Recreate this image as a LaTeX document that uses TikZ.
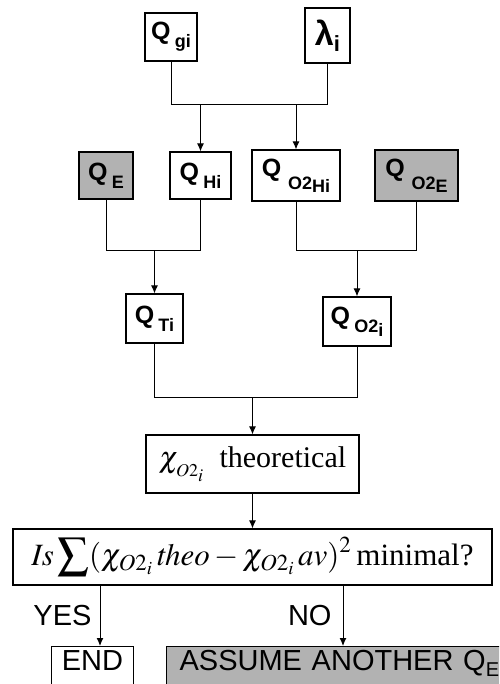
\documentclass[tikz,border=0pt]{standalone}
\usepackage{mathptmx}
\usepackage{fontspec}
\setmainfont{Liberation Serif}
\setsansfont{Liberation Sans}
\usetikzlibrary{arrows.meta}
\definecolor{boxgray}{RGB}{178,178,178}
\newcommand{\lowsub}[2][8pt]{\raisebox{-#1}{\fontsize{18}{18}\selectfont #2}}

\begin{document}
\begin{tikzpicture}[x=1pt,y=-1pt,
  box/.style={draw,line width=1.2pt,inner sep=0pt,font=\sffamily\bfseries\fontsize{25}{25}\selectfont},
  graybox/.style={box,fill=boxgray},
  plain/.style={draw,line width=1.2pt,inner sep=0pt,font=\sffamily\fontsize{29}{29}\selectfont},
  link/.style={line width=1pt},
  arr/.style={link,-{Latex[length=8pt,width=7pt]}}]
  \clip (0,0) rectangle (499,684);
  % inputs
  \node[box,minimum width=52,minimum height=48] (Qgi) at (171,37) {Q\,\lowsub{gi}};
  \node[box,minimum width=45,minimum height=55] (lam) at (327.5,35.5)
    {\fontsize{34}{34}\selectfont λ\lowsub[6pt]{\fontsize{22}{22}\selectfont i}};
  % second row
  \node[graybox,minimum width=54,minimum height=47] (QE) at (106,175.5) {Q\,\lowsub{E}};
  \node[box,minimum width=61,minimum height=47] (QHi) at (200.5,175.5) {Q\,\lowsub{Hi}};
  \node[box,minimum width=88,minimum height=51] (QO2Hi) at (296,175.5)
    {Q\;\lowsub[13pt]{O2\raisebox{-3pt}{Hi}}};
  \node[graybox,minimum width=83,minimum height=51] (QO2E) at (416.5,175.5)
    {Q\;\lowsub[13pt]{O2\raisebox{-3pt}{E}}};
  % third row
  \node[box,minimum width=57,minimum height=49] (QTi) at (154.5,318.5) {Q\,\lowsub{Ti}};
  \node[box,minimum width=68,minimum height=49] (QO2i) at (357,321.5)
    {Q\,\lowsub{O2\raisebox{-4pt}{i}}};
  % fit
  \node[draw,line width=1.2pt,minimum width=213,minimum height=58,
    font=\fontsize{30}{30}\selectfont] (theo) at (252.5,464)
    {$\chi_{_{O2_i}}$\ \ theoretical};
  \node[draw,line width=1.2pt,minimum width=479,minimum height=56,inner sep=0pt,
    font=\fontsize{31}{31}\selectfont] (min) at (252.5,557)
    {$\mathit{Is}\displaystyle\sum(\chi_{O2_i}\,\mathit{theo}-\chi_{O2_i}\,\mathit{av})^2$\,minimal?};
  % outcomes
  \node[plain,anchor=north,text height=24,text depth=40,inner xsep=10] (END) at (92.5,646) {END};
  \node[plain,fill=boxgray,anchor=north west,text height=24,text depth=40,inner xsep=13,
    text width=400,align=left] (assume) at (166,646)
    {ASSUME ANOTHER Q\lowsub[6pt]{\fontsize{20}{20}\selectfont E}};

  \coordinate (topbar) at (0,105);
  \coordinate (midbar) at (0,251);
  \coordinate (lowbar) at (0,397);
  \coordinate (yesx) at (100,0);
  \coordinate (nox) at (343,0);

  \draw[link] (Qgi.south) |- (lam.south |- topbar) -- (lam.south);
  \draw[arr] (QHi.north |- topbar) -- (QHi.north);
  \draw[arr] (QO2Hi.north |- topbar) -- (QO2Hi.north);

  \draw[link] (QE.south) |- (QHi.south |- midbar) -- (QHi.south);
  \draw[link] (QO2Hi.south) |- (QO2E.south |- midbar) -- (QO2E.south);
  \draw[arr] (QTi.north |- midbar) -- (QTi.north);
  \draw[arr] (QO2i.north |- midbar) -- (QO2i.north);

  \draw[link] (QTi.south) |- (QO2i.south |- lowbar) -- (QO2i.south);
  \draw[arr] (theo.north |- lowbar) -- (theo.north);
  \draw[arr] (theo.south) -- (min.north);

  \draw[arr] (min.south -| yesx) -- node[left,inner xsep=8pt,font=\sffamily\fontsize{29}{29}\selectfont] {YES} (END.north -| yesx);
  \draw[arr] (min.south -| nox) -- node[left,inner xsep=11pt,font=\sffamily\fontsize{29}{29}\selectfont] {NO} (assume.north -| nox);
\end{tikzpicture}
\end{document}
